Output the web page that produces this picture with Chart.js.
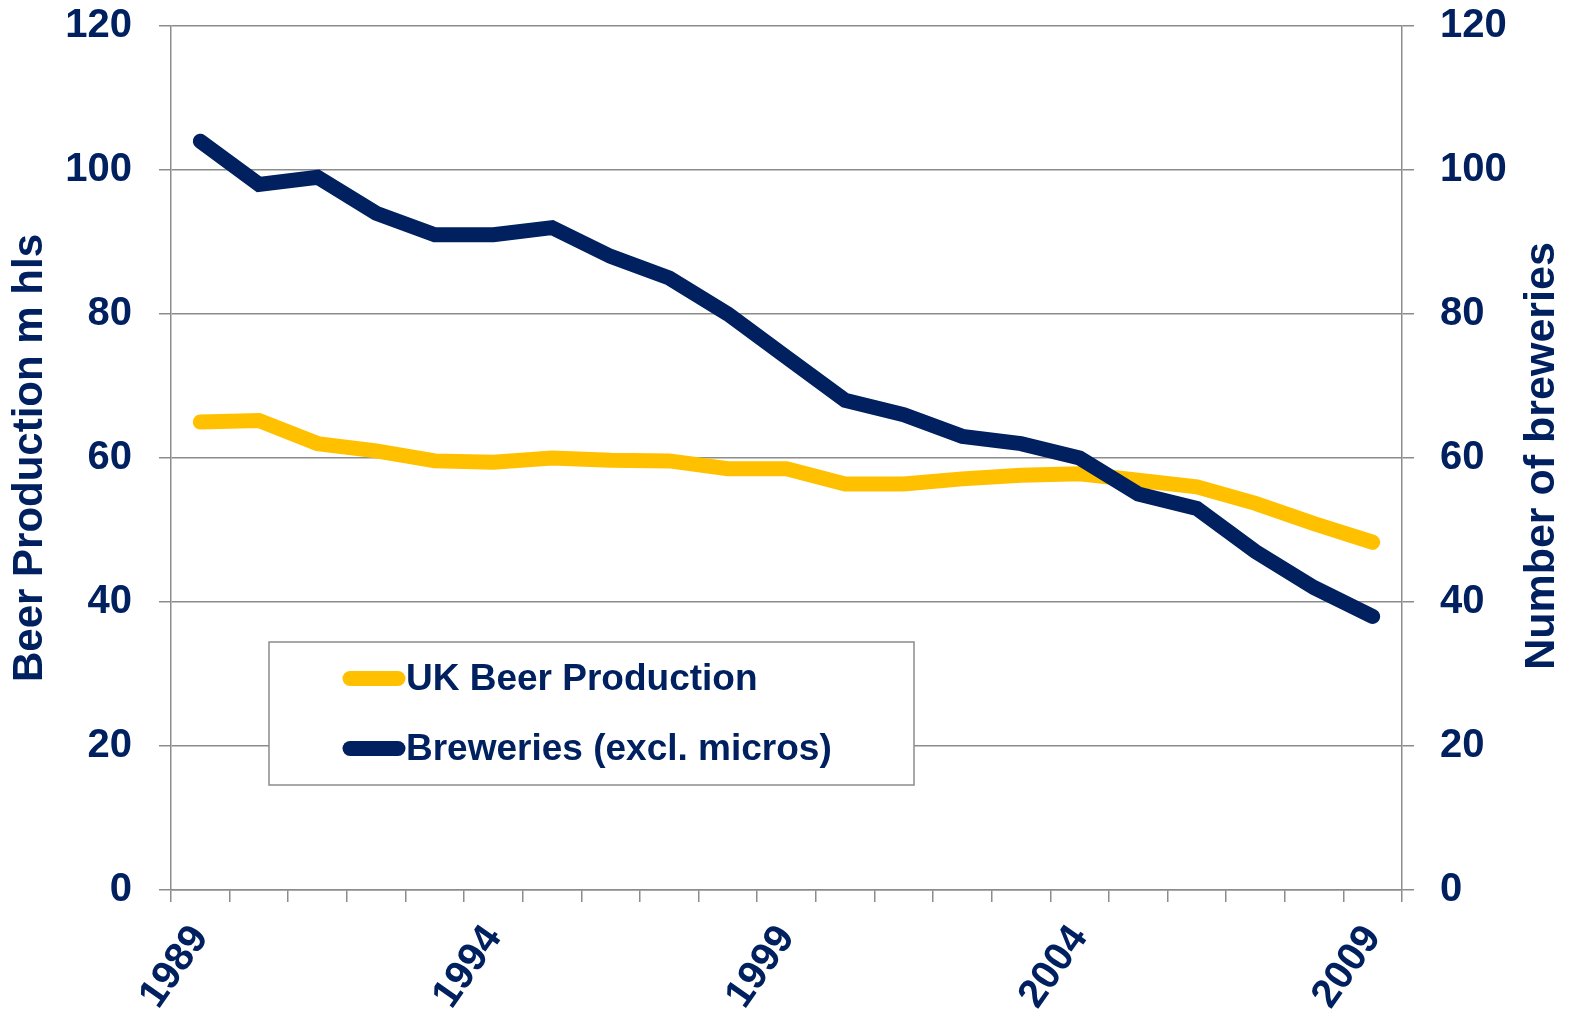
<!DOCTYPE html>
<html>
<head>
<meta charset="utf-8">
<title>UK beer production and breweries, 1989-2009</title>
<script src="https://cdn.jsdelivr.net/npm/chart.js@4.4.1/dist/chart.umd.min.js"></script>
<style>
  html, body { margin: 0; padding: 0; background: #ffffff; }
  #wrap { width: 1574px; height: 1012px; }
</style>
</head>
<body>
<div id="wrap"><canvas id="chart" width="1574" height="1012"></canvas></div>
<script>
// Years on the category axis
const years = ['1989','1990','1991','1992','1993','1994','1995','1996','1997','1998','1999',
               '2000','2001','2002','2003','2004','2005','2006','2007','2008','2009'];
// Only every fifth year carries a label
const labelledYears = ['1989','1994','1999','2004','2009'];

// UK beer production, million hectolitres (left axis)
const beerProduction = [65.0, 65.2, 62.0, 61.0, 59.6, 59.4, 60.0, 59.7, 59.6, 58.5, 58.5,
                        56.4, 56.4, 57.1, 57.6, 57.8, 56.9, 56.0, 53.7, 50.9, 48.3];
// Number of breweries excluding micros (right axis)
const breweries = [104, 98, 99, 94, 91, 91, 92, 88, 85, 80, 74,
                   68, 66, 63, 62, 60, 55, 53, 47, 42, 38];

// Value axes: range and step
const axisMin = 0;
const axisMax = 120;
const axisStep = 20;

const seriesNames = ['UK Beer Production', 'Breweries (excl. micros)'];
const leftTitle = 'Beer Production m hls';
const rightTitle = 'Number of breweries';

const NAVY = '#002060';
const GOLD = '#FFC000';
const GRID = '#8c8c8c';
const FONT = '"Liberation Sans", Arial, Helvetica, sans-serif';

Chart.defaults.font.family = FONT;
Chart.defaults.color = NAVY;

// Fix the value axes' footprint so the plot area spans y = 26 .. 890
function fitValueAxis(width) {
  return function (scale) {
    scale.width = width;
    scale.paddingTop = 26;
    scale.paddingBottom = 0;
  };
}

// Right-hand axis title, reading bottom to top
const rightTitlePlugin = {
  id: 'rightTitle',
  afterDraw(chart) {
    const ctx = chart.ctx;
    const area = chart.chartArea;
    ctx.save();
    ctx.translate(1542, (area.top + area.bottom) / 2 - 2);
    ctx.rotate(-Math.PI / 2);
    ctx.font = 'bold 43px ' + FONT;
    ctx.fillStyle = NAVY;
    ctx.textAlign = 'center';
    ctx.textBaseline = 'middle';
    ctx.fillText(rightTitle, 0, 0);
    ctx.restore();
  }
};

// Boxed legend sitting inside the plot area
const boxedLegendPlugin = {
  id: 'boxedLegend',
  afterDraw(chart) {
    const ctx = chart.ctx;
    const box = { x: 269, y: 642, w: 645, h: 143 };
    ctx.save();
    ctx.fillStyle = '#ffffff';
    ctx.fillRect(box.x, box.y, box.w, box.h);
    ctx.strokeStyle = GRID;
    ctx.lineWidth = 1.5;
    ctx.strokeRect(box.x, box.y, box.w, box.h);
    const rows = [678.5, 748.5];
    chart.data.datasets.forEach((ds, i) => {
      const y = rows[i];
      ctx.strokeStyle = ds.borderColor;
      ctx.lineWidth = 15;
      ctx.lineCap = 'round';
      ctx.beginPath();
      ctx.moveTo(350, y);
      ctx.lineTo(398, y);
      ctx.stroke();
      ctx.fillStyle = NAVY;
      ctx.font = 'bold 37px ' + FONT;
      ctx.textAlign = 'left';
      ctx.textBaseline = 'middle';
      ctx.fillText(ds.label, 406, y + 1);
    });
    ctx.restore();
  }
};

new Chart(document.getElementById('chart'), {
  type: 'line',
  data: {
    labels: years,
    datasets: [
      {
        label: seriesNames[0],
        data: beerProduction,
        yAxisID: 'y',
        borderColor: GOLD,
        backgroundColor: GOLD,
        borderWidth: 15,
        borderCapStyle: 'round',
        borderJoinStyle: 'miter',
        pointRadius: 0,
        tension: 0,
        order: 2
      },
      {
        label: seriesNames[1],
        data: breweries,
        yAxisID: 'y1',
        borderColor: NAVY,
        backgroundColor: NAVY,
        borderWidth: 15,
        borderCapStyle: 'round',
        borderJoinStyle: 'miter',
        pointRadius: 0,
        tension: 0,
        order: 1
      }
    ]
  },
  options: {
    responsive: false,
    animation: false,
    devicePixelRatio: 1,
    layout: { padding: 0 },
    plugins: {
      legend: { display: false },
      tooltip: { enabled: false }
    },
    scales: {
      x: {
        type: 'category',
        offset: true,
        afterFit(scale) { scale.height = 122; },
        border: { display: true, color: GRID, width: 1.5 },
        grid: {
          offset: true,
          drawOnChartArea: false,
          drawTicks: true,
          tickLength: 12,
          color: GRID,
          lineWidth: 1.5
        },
        ticks: {
          autoSkip: false,
          minRotation: 55,
          maxRotation: 55,
          padding: 15,
          color: NAVY,
          font: { size: 40, weight: 'bold' },
          callback(value, index) {
            const label = years[index];
            return labelledYears.includes(label) ? label : '';
          }
        }
      },
      y: {
        position: 'left',
        min: axisMin,
        max: axisMax,
        afterFit: fitValueAxis(171),
        border: { display: true, color: GRID, width: 1.5 },
        grid: {
          color: GRID,
          lineWidth: 1.5,
          drawTicks: true,
          tickLength: 12
        },
        ticks: {
          stepSize: axisStep,
          padding: 27,
          color: NAVY,
          font: { size: 40, weight: 'bold' }
        },
        title: {
          display: true,
          text: leftTitle,
          color: NAVY,
          font: { size: 42, weight: 'bold' },
          padding: { top: 5, bottom: 0 }
        }
      },
      y1: {
        position: 'right',
        min: axisMin,
        max: axisMax,
        afterFit: fitValueAxis(172),
        border: { display: true, color: GRID, width: 1.5 },
        grid: {
          drawOnChartArea: false,
          drawTicks: true,
          tickLength: 12,
          color: GRID,
          lineWidth: 1.5
        },
        ticks: {
          stepSize: axisStep,
          padding: 26,
          color: NAVY,
          font: { size: 40, weight: 'bold' }
        }
      }
    }
  },
  plugins: [rightTitlePlugin, boxedLegendPlugin]
});
</script>
</body>
</html>
